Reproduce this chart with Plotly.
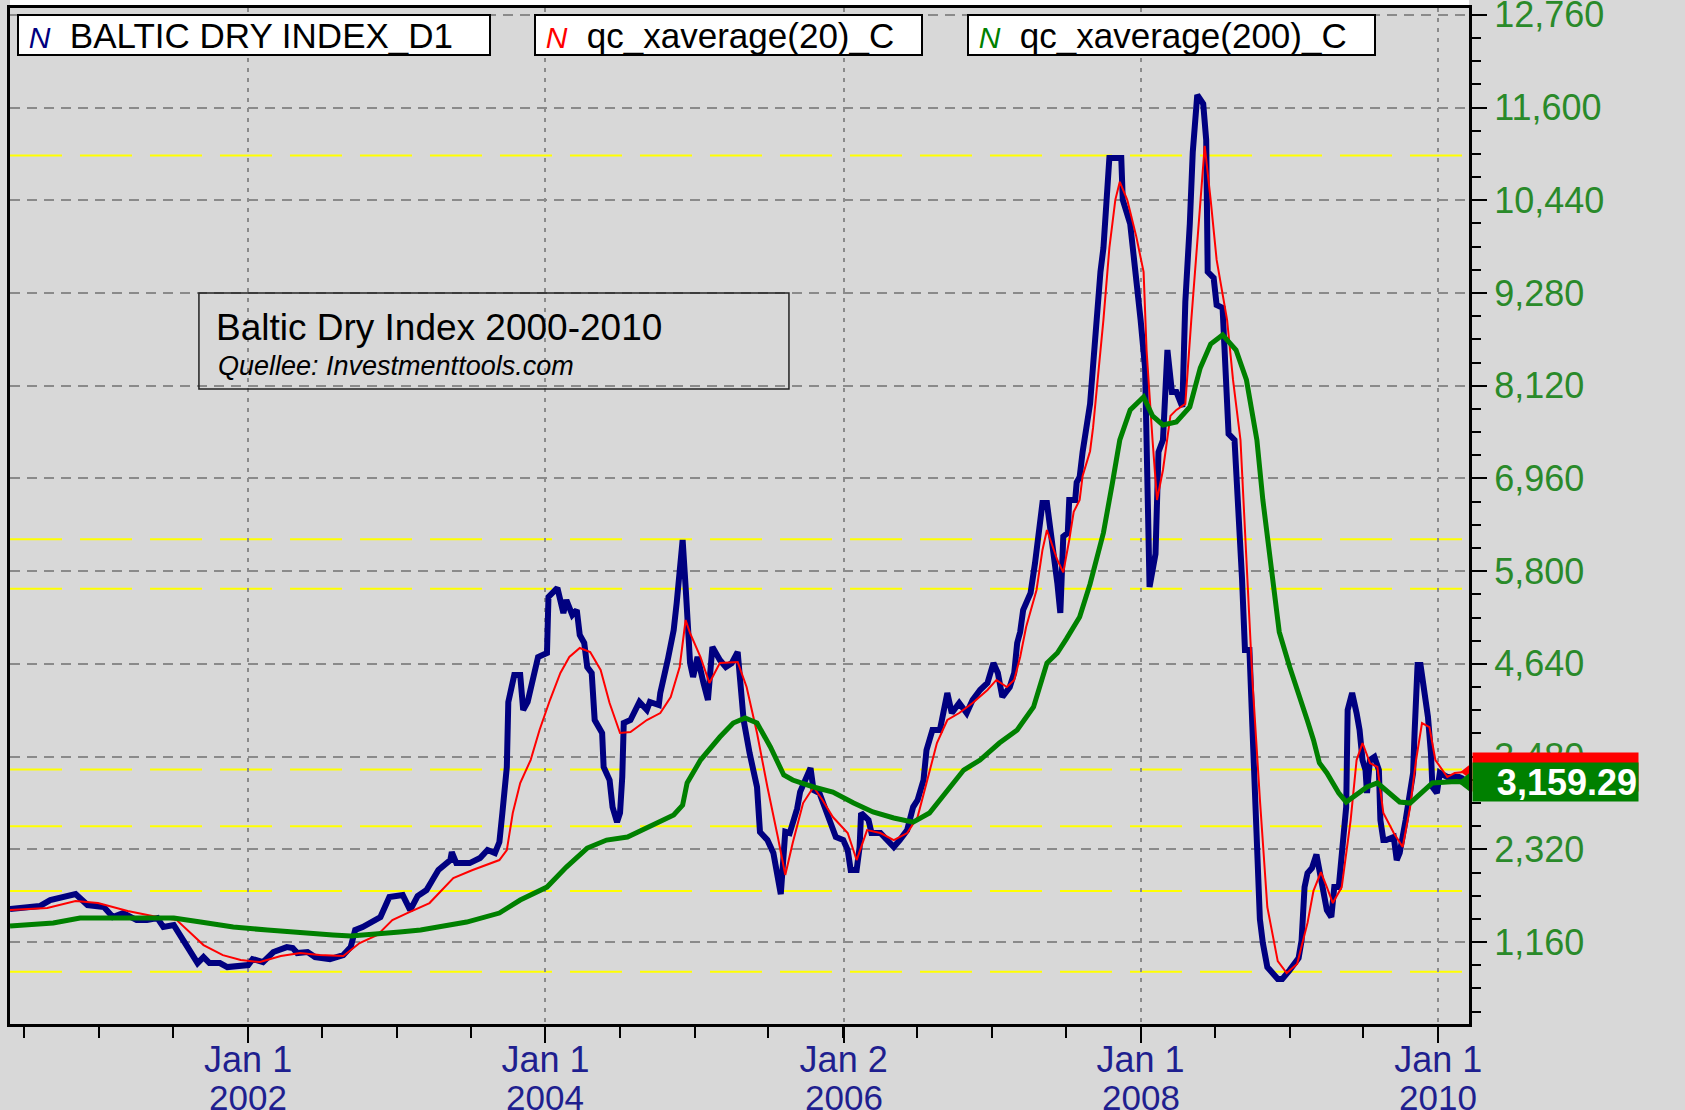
import plotly.graph_objects as go
import pandas as pd

# values (decimal year, index points)
bdi_t = [2000.40, 2000.60, 2000.67, 2000.76, 2000.84, 2000.92, 2001.03, 2001.09, 2001.16, 2001.25,
         2001.32, 2001.39, 2001.43, 2001.50, 2001.56, 2001.61, 2001.66, 2001.70, 2001.74, 2001.81,
         2001.86, 2002.00, 2002.03, 2002.10, 2002.17, 2002.26, 2002.30, 2002.33, 2002.40, 2002.45,
         2002.55, 2002.64, 2002.69, 2002.72, 2002.77, 2002.89, 2002.95, 2003.04, 2003.09, 2003.14,
         2003.20, 2003.24, 2003.28, 2003.36, 2003.37, 2003.40, 2003.49, 2003.56, 2003.61, 2003.66,
         2003.69, 2003.71, 2003.74, 2003.75, 2003.79, 2003.83, 2003.85, 2003.88, 2003.92, 2003.95,
         2004.01, 2004.02, 2004.08, 2004.12, 2004.14, 2004.18, 2004.21, 2004.23, 2004.26, 2004.28,
         2004.31, 2004.33, 2004.38, 2004.39, 2004.43, 2004.45, 2004.48, 2004.50, 2004.515, 2004.525,
         2004.57, 2004.59, 2004.63, 2004.68, 2004.70, 2004.76, 2004.77, 2004.82, 2004.86, 2004.88,
         2004.90, 2004.92, 2004.94, 2004.95, 2004.97, 2004.99, 2005.02, 2005.06, 2005.09, 2005.12,
         2005.17, 2005.21, 2005.25, 2005.29, 2005.31, 2005.33, 2005.37, 2005.42, 2005.44, 2005.49,
         2005.53, 2005.58, 2005.61, 2005.64, 2005.69, 2005.71, 2005.78, 2005.80, 2005.84, 2005.88,
         2005.90, 2005.95, 2006.00, 2006.03, 2006.05, 2006.09, 2006.11, 2006.12, 2006.17, 2006.19,
         2006.25, 2006.29, 2006.34, 2006.38, 2006.43, 2006.47, 2006.50, 2006.54, 2006.56, 2006.60,
         2006.65, 2006.70, 2006.73, 2006.78, 2006.83, 2006.87, 2006.92, 2006.97, 2007.01, 2007.04,
         2007.07, 2007.12, 2007.15, 2007.17, 2007.19, 2007.21, 2007.26, 2007.29, 2007.31, 2007.34,
         2007.37, 2007.39, 2007.41, 2007.44, 2007.46, 2007.48, 2007.51, 2007.52, 2007.56, 2007.57,
         2007.59, 2007.61, 2007.66, 2007.68, 2007.73, 2007.75, 2007.78, 2007.79, 2007.87, 2007.88,
         2007.93, 2007.96, 2008.00, 2008.03, 2008.05, 2008.06, 2008.10, 2008.12, 2008.15, 2008.18,
         2008.21, 2008.24, 2008.28, 2008.30, 2008.33, 2008.35, 2008.38, 2008.42, 2008.44, 2008.45,
         2008.49, 2008.51, 2008.55, 2008.57, 2008.59, 2008.63, 2008.65, 2008.68, 2008.70, 2008.73,
         2008.75, 2008.77, 2008.78, 2008.80, 2008.82, 2008.85, 2008.92, 2008.95, 2009.00, 2009.06,
         2009.08, 2009.10, 2009.12, 2009.15, 2009.18, 2009.22, 2009.25, 2009.28, 2009.30, 2009.33,
         2009.35, 2009.38, 2009.39, 2009.42, 2009.45, 2009.47, 2009.49, 2009.51, 2009.52, 2009.54,
         2009.57, 2009.60, 2009.61, 2009.63, 2009.65, 2009.70, 2009.72, 2009.74, 2009.78, 2009.80,
         2009.83, 2009.84, 2009.86, 2009.88, 2009.91, 2009.93, 2009.95, 2009.96, 2009.99, 2010.01,
         2010.06, 2010.10, 2010.14, 2010.17]
bdi = [1573, 1610, 1685, 1715, 1760, 1623, 1598, 1473, 1523, 1435,
       1435, 1460, 1348, 1373, 1185, 1035, 897, 972, 897, 897,
       847, 872, 947, 910, 1035, 1097, 1085, 1022, 1035, 972,
       947, 997, 1097, 1310, 1348, 1473, 1723, 1748, 1560, 1735,
       1810, 1936, 2061, 2186, 2286, 2148, 2148, 2211, 2311, 2274,
       2411, 2774, 3350, 4163, 4501, 4501, 4063, 4163, 4476, 4726,
       4776, 5477, 5590, 5277, 5439, 5252, 5314, 5001, 4901, 4601,
       4526, 3938, 3775, 3350, 3187, 2849, 2661, 2774, 3225, 3900,
       3938, 4025, 4163, 4063, 4163, 4125, 4276, 4689, 5064, 5402,
       5815, 6190, 5602, 5189, 4651, 4476, 4726, 4401, 4188, 4851,
       4689, 4601, 4650, 4789, 4351, 3938, 3525, 3100, 2536, 2436,
       2274, 1760, 2540, 2524, 2830, 3040, 3337, 3062, 3024, 2812,
       2750, 2474, 2436, 2311, 2061, 2061, 2349, 2774, 2686, 2524,
       2524, 2436, 2349, 2436, 2561, 2849, 2937, 3187, 3562, 3813,
       3813, 4276, 4025, 4150, 4025, 4188, 4313, 4401, 4651, 4526,
       4226, 4351, 4526, 4901, 5039, 5314, 5527, 5902, 6278, 6653,
       6653, 6403, 6065, 5652, 5277, 6234, 6278, 6691, 6691, 6910,
       6978, 7291, 7892, 8417, 9544, 9844, 10745, 10970, 10970, 10445,
       10144, 9694, 8943, 8342, 6841, 5602, 6015, 7291, 7441, 8567,
       8042, 8042, 7854, 9168, 10144, 11045, 11758, 11646, 11195, 9544,
       9469, 9130, 9093, 8342, 7516, 7441, 6841, 5715, 4814, 4814,
       3850, 3024, 2199, 1448, 1148, 847, 697, 697, 810, 960,
       1180, 1848, 2023, 2086, 2255, 1848, 1560, 1473, 1848, 1848,
       2274, 2849, 4063, 4276, 4025, 3813, 3437, 3312, 3024, 3437,
       3475, 3312, 2686, 2436, 2436, 2474, 2186, 2274, 2686, 2899,
       3275, 3775, 4626, 4626, 4276, 3976, 3525, 3100, 3024, 3275,
       3225, 3225, 3225, 3200]

ema20_t = [2000.40, 2000.65, 2000.84, 2000.99, 2001.19, 2001.39, 2001.52, 2001.61, 2001.70, 2001.83,
           2001.95, 2002.08, 2002.22, 2002.35, 2002.48, 2002.64, 2002.75, 2002.87, 2002.97, 2003.07,
           2003.16, 2003.22, 2003.38, 2003.51, 2003.69, 2003.74, 2003.78, 2003.83, 2003.90, 2003.96,
           2004.03, 2004.10, 2004.16, 2004.23, 2004.30, 2004.37, 2004.43, 2004.50, 2004.57, 2004.68,
           2004.77, 2004.84, 2004.90, 2004.94, 2004.97, 2005.04, 2005.10, 2005.17, 2005.29, 2005.35,
           2005.42, 2005.49, 2005.56, 2005.61, 2005.66, 2005.73, 2005.80, 2005.86, 2005.93, 2006.03,
           2006.09, 2006.16, 2006.25, 2006.34, 2006.43, 2006.50, 2006.56, 2006.63, 2006.70, 2006.78,
           2006.87, 2006.97, 2007.03, 2007.10, 2007.15, 2007.19, 2007.23, 2007.30, 2007.34, 2007.37,
           2007.44, 2007.48, 2007.52, 2007.55, 2007.59, 2007.61, 2007.66, 2007.68, 2007.75, 2007.79,
           2007.83, 2007.86, 2007.91, 2007.97, 2008.02, 2008.04, 2008.08, 2008.11, 2008.15, 2008.20,
           2008.24, 2008.30, 2008.34, 2008.38, 2008.41, 2008.43, 2008.47, 2008.51, 2008.58, 2008.62,
           2008.67, 2008.71, 2008.75, 2008.80, 2008.85, 2008.92, 2008.98, 2009.05, 2009.12, 2009.16,
           2009.21, 2009.25, 2009.29, 2009.35, 2009.41, 2009.45, 2009.49, 2009.54, 2009.59, 2009.63,
           2009.70, 2009.76, 2009.81, 2009.85, 2009.89, 2009.94, 2009.98, 2010.06, 2010.11, 2010.19]
ema20 = [1560, 1585, 1673, 1648, 1548, 1473, 1435, 1273, 1122, 997,
         935, 910, 985, 1022, 997, 985, 1148, 1248, 1435, 1523,
         1600, 1648, 1961, 2061, 2186, 2311, 2774, 3150, 3437, 3813,
         4188, 4526, 4726, 4839, 4789, 4564, 4150, 3775, 3788, 3938,
         4025, 4226, 4601, 5189, 5026, 4726, 4401, 4651, 4664, 4351,
         3775, 3100, 2474, 2000, 2399, 2899, 3100, 2937, 2724, 2524,
         2186, 2561, 2524, 2436, 2524, 2724, 3150, 3650, 3938, 4025,
         4150, 4313, 4439, 4351, 4439, 4726, 5102, 5565, 6065, 6315,
         5940, 5785, 6190, 6541, 6691, 6991, 7300, 7592, 8943, 9844,
         10445, 10670, 10445, 9994, 9544, 8567, 7441, 6691, 7066, 7742,
         7817, 7892, 8943, 9919, 10745, 11120, 10445, 9694, 8943, 8192,
         7441, 5940, 4439, 2949, 1598, 922, 772, 885, 1400, 1800,
         2035, 1848, 1648, 1848, 2686, 3437, 3650, 3400, 3350, 2774,
         2524, 2349, 2849, 3437, 3900, 3850, 3437, 3225, 3275, 3290]

ema200_t = [2000.40, 2000.69, 2000.87, 2001.23, 2001.50, 2001.68, 2001.90, 2002.13, 2002.35, 2002.57,
            2002.69, 2002.91, 2003.02, 2003.16, 2003.24, 2003.47, 2003.69, 2003.83, 2004.01, 2004.14,
            2004.28, 2004.41, 2004.55, 2004.72, 2004.86, 2004.92, 2004.95, 2005.04, 2005.17, 2005.26,
            2005.34, 2005.42, 2005.51, 2005.60, 2005.66, 2005.80, 2005.93, 2006.07, 2006.20, 2006.34,
            2006.47, 2006.58, 2006.70, 2006.81, 2006.92, 2007.05, 2007.17, 2007.28, 2007.37, 2007.44,
            2007.50, 2007.59, 2007.66, 2007.75, 2007.81, 2007.86, 2007.93, 2008.02, 2008.08, 2008.15,
            2008.24, 2008.33, 2008.40, 2008.47, 2008.55, 2008.64, 2008.71, 2008.78, 2008.82, 2008.87,
            2008.93, 2009.00, 2009.07, 2009.12, 2009.16, 2009.20, 2009.25, 2009.33, 2009.38, 2009.45,
            2009.52, 2009.59, 2009.65, 2009.74, 2009.81, 2009.88, 2009.96, 2010.06, 2010.12, 2010.19]
ema200 = [1360, 1398, 1460, 1460, 1460, 1410, 1348, 1310, 1273, 1248,
          1235, 1260, 1285, 1310, 1335, 1410, 1523, 1686, 1848, 2098,
          2336, 2436, 2474, 2624, 2749, 2874, 3150, 3437, 3725, 3900,
          3963, 3900, 3600, 3250, 3187, 3100, 3037, 2899, 2787, 2712,
          2661, 2774, 3062, 3312, 3437, 3650, 3813, 4101, 4651, 4776,
          4950, 5227, 5640, 6280, 6900, 7441, 7817, 7979, 7742, 7629,
          7667, 7854, 8342, 8642, 8755, 8567, 8192, 7441, 6691, 5940,
          5040, 4600, 4226, 3925, 3688, 3400, 3275, 3024, 2912, 2999,
          3100, 3150, 3062, 2912, 2899, 3024, 3150, 3162, 3170, 3159.29]

series_names = ["BALTIC DRY INDEX_D1", "qc_xaverage(20)_C", "qc_xaverage(200)_C"]
level_lines = [11000, 6200, 5580, 3320, 2610, 1800, 790]
y_ticks = [1160, 2320, 3480, 4640, 5800, 6960, 8120, 9280, 10440, 11600, 12760]
x_tick_dates = ["2002-01-01", "2004-01-01", "2006-01-02", "2008-01-01", "2010-01-01"]
x_tick_day = ["Jan 1", "Jan 1", "Jan 2", "Jan 1", "Jan 1"]
x_tick_year = ["2002", "2004", "2006", "2008", "2010"]
x_range = [2000.40, 2010.206]
y_range = [135, 12845]

NAVY = "#000080"
RED = "#ff0000"
GREEN = "#008000"
BG = "#d8d8d8"
FONT = "Liberation Sans, Arial, sans-serif"
NB = "\u00a0"


def to_date(t):
    yr = int(t)
    start = pd.Timestamp(year=yr, month=1, day=1)
    length = (pd.Timestamp(year=yr + 1, month=1, day=1) - start).days
    return (start + pd.Timedelta(days=(t - yr) * length)).round("h")


fig = go.Figure()
fig.add_trace(go.Scatter(x=[to_date(t) for t in bdi_t], y=bdi, mode="lines",
                         name=series_names[0], line=dict(color=NAVY, width=6)))
fig.add_trace(go.Scatter(x=[to_date(t) for t in ema20_t], y=ema20, mode="lines",
                         name=series_names[1], line=dict(color=RED, width=2)))
fig.add_trace(go.Scatter(x=[to_date(t) for t in ema200_t], y=ema200, mode="lines",
                         name=series_names[2], line=dict(color=GREEN, width=5)))
# last-value pointers at the right edge
fig.add_trace(go.Scatter(x=[to_date(ema20_t[-1])], y=[ema20[-1]], mode="markers",
                         marker=dict(symbol="triangle-left", size=12, color=RED),
                         showlegend=False, cliponaxis=False))
fig.add_trace(go.Scatter(x=[to_date(ema200_t[-1])], y=[ema200[-1]], mode="markers",
                         marker=dict(symbol="triangle-left", size=18, color=GREEN),
                         showlegend=False, cliponaxis=False))

for v in level_lines:
    fig.add_shape(type="line", xref="x domain", x0=0, x1=1, yref="y", y0=v, y1=v,
                  line=dict(color="#ffff00", width=2, dash="52px,18px"), layer="below")

# white strip above the plot frame
fig.add_shape(type="rect", xref="paper", yref="paper", x0=0, x1=1, y0=1.001, y1=1.012,
              line=dict(width=0), fillcolor="white", layer="below")

# text box
fig.add_shape(type="rect", xref="paper", yref="paper", x0=0.1295, x1=0.5339, y0=0.625, y1=0.7195,
              line=dict(color="#222222", width=1.5))
fig.add_annotation(xref="paper", yref="paper", x=0.1400, y=0.6860, xanchor="left", yanchor="middle",
                   text="Baltic Dry Index 2000-2010", showarrow=False,
                   font=dict(family=FONT, size=37, color="black"))
fig.add_annotation(xref="paper", yref="paper", x=0.1412, y=0.6476, xanchor="left", yanchor="middle",
                   text="<i>Quellee: Investmenttools.com</i>", showarrow=False,
                   font=dict(family=FONT, size=27, color="black"))

# legend keys, each in its own box
legend_x = [0.0048, 0.3591, 0.6559]
legend_w = [470, 385, 405]
for name, color, x, w in zip(series_names, [NAVY, RED, GREEN], legend_x, legend_w):
    icon = f"<span style='color:{color};font-size:30px'><i>N</i></span>"
    fig.add_annotation(xref="paper", yref="paper", x=x, y=0.9941, xanchor="left", yanchor="top",
                       text=f"{NB}{icon}{NB}{NB}{name}", showarrow=False, align="left",
                       width=w, height=38, borderpad=0, bgcolor="white",
                       bordercolor="black", borderwidth=2,
                       font=dict(family=FONT, size=35, color="black"))

# value boxes on the price scale
fig.add_annotation(xref="paper", yref="y", x=1, y=ema20[-1], xanchor="left", yanchor="middle",
                   xshift=3, text=f"<b>{ema20[-1]:,.2f}</b>", showarrow=False, bgcolor=RED,
                   width=163, height=36, align="right", font=dict(family=FONT, size=36, color=RED))
fig.add_annotation(xref="paper", yref="y", x=1, y=ema200[-1], xanchor="left", yanchor="middle",
                   xshift=3, text=f"<b>{ema200[-1]:,.2f}</b>", showarrow=False, bgcolor=GREEN,
                   width=163, height=36, align="right", font=dict(family=FONT, size=36, color="white"))

for d, yr in zip(x_tick_dates, x_tick_year):
    fig.add_annotation(xref="x", yref="paper", x=d, y=0, yanchor="top", yshift=-52,
                       text=yr, showarrow=False, font=dict(family=FONT, size=35, color="#1f1f8f"))

fig.update_layout(
    width=1685, height=1110,
    margin=dict(l=10, r=216, t=8, b=86),
    paper_bgcolor=BG, plot_bgcolor=BG,
    font=dict(family=FONT),
    showlegend=False,
    xaxis=dict(
        type="date", range=[to_date(x_range[0]), to_date(x_range[1])], automargin=False,
        tickmode="array", tickvals=x_tick_dates, ticktext=x_tick_day,
        ticks="outside", ticklen=16, tickwidth=2, tickcolor="black",
        tickfont=dict(family=FONT, size=36, color="#1f1f8f"), ticklabelstandoff=-14,
        showline=True, linecolor="black", linewidth=3, mirror=True,
        showgrid=True, gridcolor="#8a8a8a", gridwidth=2, griddash="4px,6px",
        minor=dict(tickmode="linear", tick0="2000-07-01", dtick="M6", ticks="outside",
                   ticklen=11, tickwidth=2, tickcolor="black", showgrid=False),
        zeroline=False,
    ),
    yaxis=dict(
        side="right", range=y_range, automargin=False,
        tickmode="array", tickvals=y_ticks, ticktext=[f"{v:,}" for v in y_ticks],
        ticks="outside", ticklen=15, tickwidth=2, tickcolor="black",
        tickfont=dict(family=FONT, size=36, color="#2a8a2a"), ticklabeloverflow="allow",
        showline=True, linecolor="black", linewidth=3, mirror=True,
        showgrid=True, gridcolor="#8a8a8a", gridwidth=2, griddash="10px,7px",
        minor=dict(tickmode="linear", tick0=0, dtick=290, ticks="outside",
                   ticklen=9, tickwidth=2, tickcolor="black", showgrid=False),
        zeroline=False,
    ),
)

fig.write_html("out.html", config={"displayModeBar": False},
               post_script="document.body.style.margin='0';document.body.style.overflow='hidden';")
